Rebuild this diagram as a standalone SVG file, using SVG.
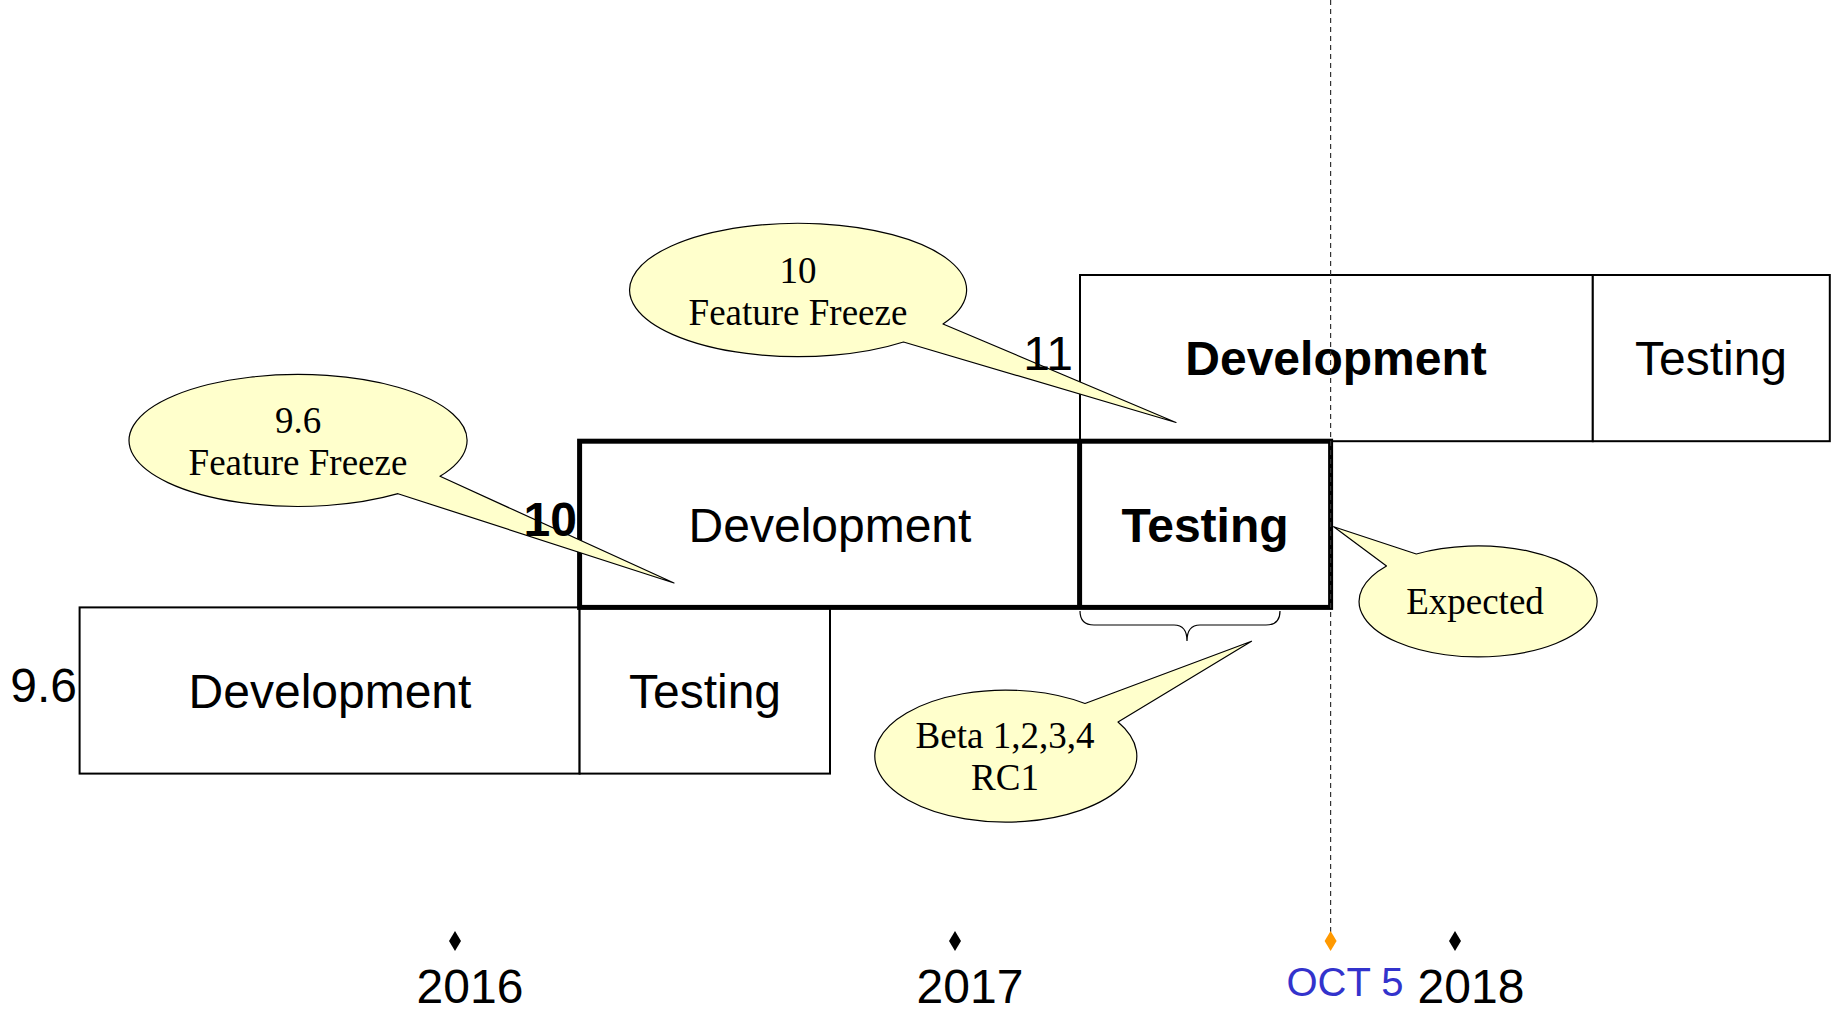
<svg xmlns="http://www.w3.org/2000/svg" width="1835" height="1010" viewBox="0 0 1835 1010">
  <style>
    .bg { fill: #ffffff; }
    .box { fill: #ffffff; stroke: #000000; stroke-width: 2; }
    .box-bold { fill: none; stroke: #000000; stroke-width: 5; }
    .sans { font-family: "Liberation Sans", Arial, sans-serif; font-size: 48px; fill: #000000; }
    .bold { font-weight: bold; }
    .mid { text-anchor: middle; }
    .end { text-anchor: end; }
    .callout { fill: #ffffcc; stroke: #000000; stroke-width: 1.2; stroke-linejoin: round; }
    .serif { font-family: "Liberation Serif", "Times New Roman", serif; font-size: 37px; fill: #000000; text-anchor: middle; }
    .brace { fill: none; stroke: #000000; stroke-width: 1.2; }
    .today { stroke: #333333; stroke-width: 1.2; stroke-dasharray: 5 4; fill: none; }
    .tick { fill: #000000; }
    .tick-now { fill: #ff9900; }
    .year { font-family: "Liberation Sans", Arial, sans-serif; font-size: 48px; fill: #000000; text-anchor: middle; }
    .now { font-family: "Liberation Sans", Arial, sans-serif; font-size: 40px; fill: #3333cc; text-anchor: middle; }
  </style>

  <rect class="bg" x="0" y="0" width="1835" height="1010"/>

  <!-- Release 9.6 -->
  <g id="release-9-6">
    <rect class="box" x="79.6" y="607.4" width="500" height="166.2"/>
    <rect class="box" x="579.6" y="607.4" width="250.4" height="166.2"/>
    <text class="sans mid" x="330" y="708">Development</text>
    <text class="sans mid" x="705" y="708">Testing</text>
  </g>

  <!-- Release 11 -->
  <g id="release-11">
    <rect class="box" x="1080" y="275" width="512.8" height="166.2"/>
    <rect class="box" x="1592.8" y="275" width="237" height="166.2"/>
    <text class="sans bold mid" x="1336" y="375">Development</text>
    <text class="sans mid" x="1711" y="375">Testing</text>
  </g>

  <!-- Release 10 (current) -->
  <g id="release-10">
    <rect class="box" x="579.6" y="441.2" width="500" height="166.2" style="stroke:none"/>
    <rect class="box" x="1079.6" y="441.2" width="251" height="166.2" style="stroke:none"/>
    <rect class="box-bold" x="579.6" y="441.2" width="751" height="166.2"/>
    <line class="box-bold" x1="1079.6" y1="441.2" x2="1079.6" y2="607.4"/>
    <text class="sans mid" x="830" y="542">Development</text>
    <text class="sans bold mid" x="1205" y="542">Testing</text>
  </g>

  <!-- Connectors: today marker and beta brace -->
  <g id="connectors">
    <line class="today" x1="1330.6" y1="0" x2="1330.6" y2="934"/>
    <path class="brace" d="M 1080 611 Q 1080 625 1094 625 L 1174 625 Q 1187 625 1187 641 Q 1187 625 1200 625 L 1266 625 Q 1280 625 1280 611"/>
  </g>

  <!-- Callouts -->
  <g id="callout-10-freeze">
    <path class="callout" d="M 903.5 342 A 168.5 66.7 0 1 1 943 324 L 1176 422.5 Z"/>
    <text class="serif" x="798" y="283">10</text>
    <text class="serif" x="798" y="325">Feature Freeze</text>
  </g>

  <g id="callout-9-6-freeze">
    <path class="callout" d="M 398 493.7 A 169 66 0 1 1 440 476.3 L 674 583 Z"/>
    <text class="serif" x="298" y="433">9.6</text>
    <text class="serif" x="298" y="475">Feature Freeze</text>
  </g>

  <g id="callout-expected">
    <path class="callout" d="M 1416.3 554 A 119 55.5 0 1 1 1386.5 566 L 1333.7 526.7 Z"/>
    <text class="serif" x="1475" y="614">Expected</text>
  </g>

  <g id="callout-beta">
    <path class="callout" d="M 1118 722 A 131 66 0 1 1 1085 703.5 L 1251.5 641.3 Z"/>
    <text class="serif" x="1005" y="748">Beta 1,2,3,4</text>
    <text class="serif" x="1005" y="790">RC1</text>
  </g>

  <!-- Version labels -->
  <g id="labels">
    <text class="sans end" x="77" y="702">9.6</text>
    <text class="sans bold end" x="577" y="536">10</text>
    <text class="sans end" x="1073" y="370">11</text>
  </g>

  <!-- Timeline -->
  <g id="timeline">
    <polygon class="tick" points="455,931 461,941 455,951 449,941"/>
    <polygon class="tick" points="955,931 961,941 955,951 949,941"/>
    <polygon class="tick-now" points="1330.6,931 1336.6,941 1330.6,951 1324.6,941"/>
    <polygon class="tick" points="1455,931 1461,941 1455,951 1449,941"/>
    <text class="year" x="470" y="1003">2016</text>
    <text class="year" x="970" y="1003">2017</text>
    <text class="now" x="1345" y="996">OCT 5</text>
    <text class="year" x="1471" y="1003">2018</text>
  </g>
</svg>
